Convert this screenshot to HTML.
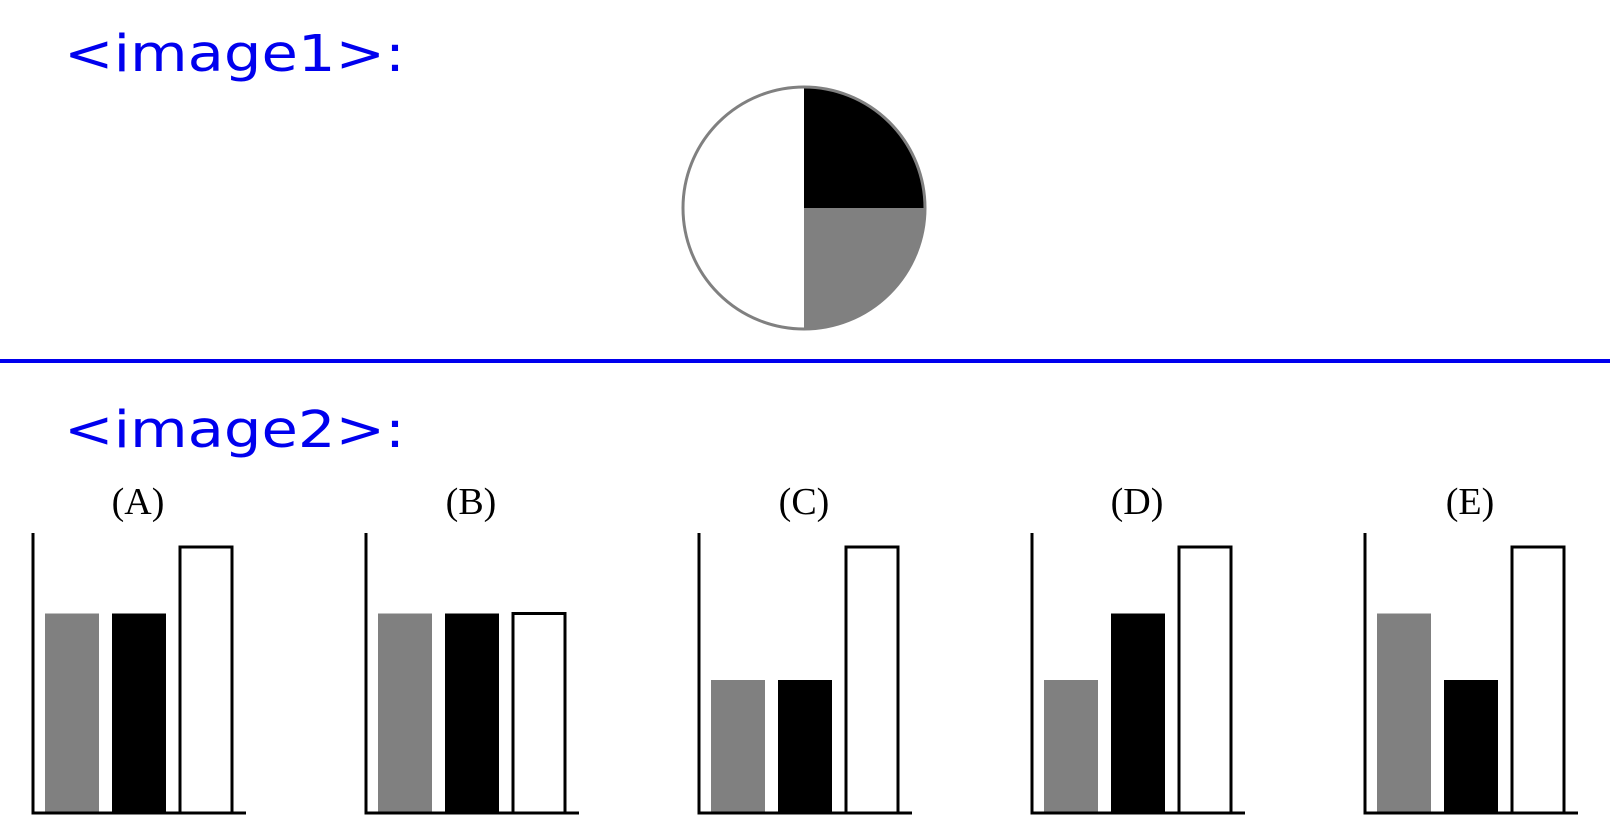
<!DOCTYPE html>
<html><head><meta charset="utf-8"><style>
html,body{margin:0;padding:0;background:#fff;width:1610px;height:834px;overflow:hidden}
svg{display:block}
</style></head><body>
<svg id="c" width="1610" height="834" xmlns="http://www.w3.org/2000/svg">
<text x="64" y="71" font-family="DejaVu Sans, sans-serif" font-size="51" fill="#0000ee" textLength="341" lengthAdjust="spacingAndGlyphs">&lt;image1&gt;:</text>
<rect x="0" y="359" width="1610" height="4" fill="#0000ee"/>
<text x="64" y="447" font-family="DejaVu Sans, sans-serif" font-size="51" fill="#0000ee" textLength="341" lengthAdjust="spacingAndGlyphs">&lt;image2&gt;:</text>
<g id="pie"></g>
<g id="bars"></g>
</svg>
<script>
const pieValues=[1,1,2];
const pieColors=['#000','#808080','#fff'];
const panelLabels=['(A)','(B)','(C)','(D)','(E)'];
const grayVals=[3,3,2,2,3];
const blackVals=[3,3,2,3,2];
const whiteVals=[4,3,4,4,4];
const NS='http://www.w3.org/2000/svg';
function mk(t,a,p){const e=document.createElementNS(NS,t);for(const k in a)e.setAttribute(k,a[k]);p.appendChild(e);return e;}
const pg=document.getElementById('pie');
const cx=804,cy=208,r=121;
const tot=pieValues.reduce((a,b)=>a+b,0);
let ang=-Math.PI/2;
pieValues.forEach((v,i)=>{
  const a2=ang+v/tot*2*Math.PI;
  const x1=cx+r*Math.cos(ang),y1=cy+r*Math.sin(ang),x2=cx+r*Math.cos(a2),y2=cy+r*Math.sin(a2);
  const large=(a2-ang)>Math.PI?1:0;
  const p=mk('path',{d:`M${cx},${cy}L${x1},${y1}A${r},${r} 0 ${large} 1 ${x2},${y2}Z`,fill:pieColors[i],stroke:'none'},pg);
  
  
  ang=a2;
});
const outline=mk('circle',{cx:cx,cy:cy,r:r,fill:'none',stroke:'#808080','stroke-width':3},pg);


const bg=document.getElementById('bars');
const base=813,unit=66.5;
const yS=v=>base-v*unit;
panelLabels.forEach((lab,i)=>{
  const ox=33+i*333;
  const g=mk('g',{},bg);
  
  
  const t=mk('text',{x:ox+105,y:514,'font-family':'Liberation Serif, serif','font-size':38,'text-anchor':'middle',fill:'#000'},g);
  t.textContent=lab;
  
  
  const gr=mk('rect',{x:ox+12,y:yS(grayVals[i]),width:54,height:base-yS(grayVals[i]),fill:'#808080'},g);
  
  
  const bk=mk('rect',{x:ox+79,y:yS(blackVals[i]),width:54,height:base-yS(blackVals[i]),fill:'#000'},g);
  
  
  const wh=mk('rect',{x:ox+147,y:yS(whiteVals[i]),width:52,height:base-yS(whiteVals[i]),fill:'#fff',stroke:'#000','stroke-width':3},g);
  
  
  const ax=mk('path',{d:`M${ox},533V${base}H${ox+213}`,fill:'none',stroke:'#000','stroke-width':3},g);
  
  
});
</script>
</body></html>
